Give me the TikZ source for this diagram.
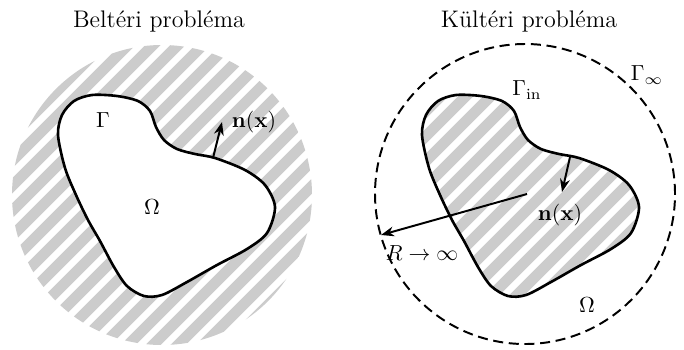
\documentclass[tikz,border=0pt]{standalone}
\usetikzlibrary{arrows.meta}
\begin{document}
\begin{tikzpicture}[
    x=0.4587pt,y=0.4587pt,
    outline/.style={line width=1.2pt},
    arr/.style={line width=0.9pt},
    stripe/.style={draw=gray!40,line width=5pt},
    farbound/.style={line width=0.9pt,dash pattern=on 4.6pt off 2.6pt},
    title/.style={anchor=base,font=\fontsize{11}{13}\selectfont},
    blob/.style={insert path={plot[smooth cycle] coordinates {
        (-104,60) (-100,80) (-88,94) (-70,100) (-45,99) (-24,94)
        (-12,84) (-6,68) (2,55) (15,46) (33,41) (53,37) (83,25)
        (103,10) (113,-12) (105,-38) (85,-54) (55,-70) (25,-87)
        (0,-100) (-18,-101) (-35,-91) (-48,-72) (-62,-46) (-74,-25)
        (-86,0) (-97,27)}}},
    >={Stealth[length=6pt,width=4.5pt]}
]
\useasboundingbox (0,0) rectangle (684,349);

% interior problem
\node[title] (tin) at (159,322) {Beltéri probléma};
\begin{scope}[shift={(162,154)}]
\begin{scope}
\clip (0,0) circle (150);
\foreach \k in {-14,...,14}
    \draw[stripe] (\k*25-234,-250) -- (\k*25+266,250);
\end{scope}
\fill[white,blob];
\draw[outline,blob];
\end{scope}
\node (gin) at (103,229) {$\Gamma$};
\node (oin) at (152,142) {$\Omega$};
\coordinate (nbin) at (213,191);
\coordinate (ntin) at (222,227);
\draw[arr,->] (nbin) -- (ntin);
\node (nin) at (254,227) {$\mathbf{n}(\mathbf{x})$};

% exterior problem
\node[title] (tex) at (529,322) {Kültéri probléma};
\begin{scope}[shift={(526,154)}]
\begin{scope}
\clip[blob];
\foreach \k in {-12,...,12}
    \draw[stripe] (\k*25-234,-250) -- (\k*25+266,250);
\end{scope}
\draw[outline,blob];
\end{scope}
\draw[farbound] (525,155) circle (150);
\node (gex) at (527,259) {$\Gamma_{\mathrm{in}}$};
\node (ginf) at (647,274) {$\Gamma_\infty$};
\node (oex) at (587,44) {$\Omega$};
\coordinate (nbex) at (570,192);
\coordinate (ntex) at (562,157);
\draw[arr,->] (nbex) -- (ntex);
\node (nex) at (560,134) {$\mathbf{n}(\mathbf{x})$};
\coordinate (rc) at (527,155);
\coordinate (rend) at (381,114);
\draw[arr,->] (rc) -- (rend);
\node (rlab) at (422,96) {$R\to\infty$};
\end{tikzpicture}
\end{document}
